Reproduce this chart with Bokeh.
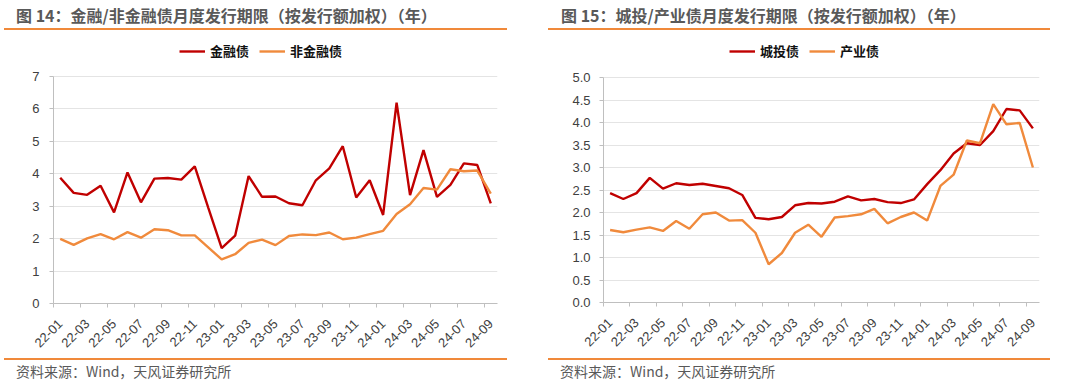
import math
from bokeh.plotting import figure
from bokeh.layouts import row, column
from bokeh.models import (Range1d, FixedTicker, Legend, LegendItem,
                          NumeralTickFormatter, Div)
from bokeh.embed import file_html
from bokeh.resources import INLINE

# ---------------- data ----------------
months = ["22-01", "22-02", "22-03", "22-04", "22-05", "22-06", "22-07", "22-08",
          "22-09", "22-10", "22-11", "22-12", "23-01", "23-02", "23-03", "23-04",
          "23-05", "23-06", "23-07", "23-08", "23-09", "23-10", "23-11", "23-12",
          "24-01", "24-02", "24-03", "24-04", "24-05", "24-06", "24-07", "24-08",
          "24-09"]

fin_bond = [3.88, 3.41, 3.35, 3.63, 2.81, 4.04, 3.12, 3.85, 3.87, 3.82, 4.23, 2.96,
            1.71, 2.09, 3.93, 3.29, 3.30, 3.09, 3.03, 3.80, 4.17, 4.85, 3.27, 3.80,
            2.73, 6.19, 3.34, 4.73, 3.29, 3.66, 4.32, 4.27, 3.09]
nonfin_bond = [1.99, 1.81, 2.01, 2.14, 1.98, 2.20, 2.03, 2.29, 2.26, 2.10, 2.10, 1.73,
               1.36, 1.52, 1.87, 1.97, 1.80, 2.08, 2.13, 2.11, 2.19, 1.98, 2.03, 2.14,
               2.24, 2.76, 3.06, 3.56, 3.51, 4.14, 4.08, 4.10, 3.39]

lgfv_bond = [2.43, 2.30, 2.43, 2.77, 2.53, 2.65, 2.61, 2.64, 2.59, 2.54, 2.39, 1.88,
             1.85, 1.90, 2.16, 2.21, 2.20, 2.24, 2.36, 2.27, 2.30, 2.23, 2.21, 2.29,
             2.63, 2.94, 3.31, 3.54, 3.50, 3.81, 4.30, 4.27, 3.87]
industry_bond = [1.61, 1.56, 1.62, 1.67, 1.59, 1.81, 1.64, 1.96, 2.00, 1.82, 1.83, 1.55,
                 0.85, 1.10, 1.55, 1.73, 1.46, 1.89, 1.92, 1.96, 2.08, 1.76, 1.90, 2.00,
                 1.82, 2.59, 2.84, 3.60, 3.54, 4.41, 3.96, 3.99, 3.00]

left_yticks = [0, 1, 2, 3, 4, 5, 6, 7]
right_yticks = [0.0, 0.5, 1.0, 1.5, 2.0, 2.5, 3.0, 3.5, 4.0, 4.5, 5.0]

title_left = "图 14：金融/非金融债月度发行期限（按发行额加权）（年）"
title_right = "图 15：城投/产业债月度发行期限（按发行额加权）（年）"
names_left = ["金融债", "非金融债"]
names_right = ["城投债", "产业债"]
source_text = "资料来源：Wind，天风证券研究所"

# ---------------- styles ----------------
RED = "#C00000"
ORANGE = "#F08A3C"
RULE = "#F0893A"
AXIS = "#BFBFBF"
GRID = "#E4E4E4"
CJK = "Noto Sans CJK SC"
LAT = "Liberation Sans"
PANEL_W = 540


def header_div(text, text_left, rule_left, rule_width):
    html = (
        f'<div style="position:relative;width:{PANEL_W}px;height:30px;overflow:hidden;">'
        f'<div style="position:absolute;left:{text_left}px;top:4px;line-height:22px;'
        f"font-family:'{CJK}';font-size:16px;font-weight:bold;color:#595959;"
        f'white-space:nowrap;">{text}</div>'
        f'<div style="position:absolute;left:{rule_left}px;top:28px;width:{rule_width}px;'
        f'height:2px;background:{RULE};"></div></div>'
    )
    return Div(text=html, width=PANEL_W, height=30, margin=0)


def footer_div(text, text_left, rule_left, rule_width):
    html = (
        f'<div style="position:relative;width:{PANEL_W}px;height:27px;overflow:hidden;">'
        f'<div style="position:absolute;left:{rule_left}px;top:0px;width:{rule_width}px;'
        f'height:2px;background:{RULE};"></div>'
        f'<div style="position:absolute;left:{text_left}px;top:3px;line-height:20px;'
        f"font-family:'{CJK}';font-size:14px;color:#595959;"
        f'white-space:nowrap;">{text}</div></div>'
    )
    return Div(text=html, width=PANEL_W, height=27, margin=0)


def main_fig(names, s1, s2, ymax, yticks, yfmt, bl, fw, bt, fh, bb, px_per_unit,
             leg_x, leg_y, label_standoff):
    x = list(range(len(months)))
    # the frame also holds the legend strip above the top gridline
    y_end = fh / px_per_unit
    p = figure(frame_width=fw, frame_height=fh, min_border_left=bl,
               min_border_right=PANEL_W - bl - fw, min_border_top=bt,
               min_border_bottom=bb,
               output_backend="svg", toolbar_location=None,
               x_range=Range1d(-0.5, len(months) - 0.5), y_range=Range1d(0, y_end))
    p.title.visible = False
    p.outline_line_color = None
    p.background_fill_color = "white"
    p.border_fill_color = "white"

    r1 = p.line(x, s1, line_color=RED, line_width=2.4)
    r2 = p.line(x, s2, line_color=ORANGE, line_width=2.4)

    xa = p.xaxis[0]
    major = list(range(0, len(months), 2))
    xa.ticker = FixedTicker(ticks=major, minor_ticks=[m - 0.5 for m in major])
    xa.major_label_overrides = {m: months[m] for m in major}
    xa.major_label_orientation = math.pi / 4
    xa.major_tick_line_color = None
    xa.major_tick_in = 0
    xa.major_tick_out = 0
    xa.minor_tick_line_color = AXIS
    xa.minor_tick_in = 0
    xa.minor_tick_out = 4
    xa.axis_line_color = AXIS
    xa.major_label_text_font = LAT
    xa.major_label_text_font_size = "13px"
    xa.major_label_text_color = "#404040"
    xa.major_label_standoff = 14

    ya = p.yaxis[0]
    ya.ticker = FixedTicker(ticks=yticks)
    ya.bounds = (0, ymax)
    if yfmt:
        ya.formatter = NumeralTickFormatter(format=yfmt)
    ya.axis_line_color = AXIS
    ya.major_tick_line_color = AXIS
    ya.major_tick_in = 0
    ya.major_tick_out = 4
    ya.minor_tick_line_color = None
    ya.major_label_text_font = LAT
    ya.major_label_text_font_size = "13px"
    ya.major_label_text_color = "#404040"
    ya.major_label_standoff = label_standoff

    p.xgrid.visible = False
    p.ygrid.grid_line_color = GRID
    p.ygrid.grid_line_width = 1

    legend = Legend(items=[LegendItem(label=names[0], renderers=[r1]),
                           LegendItem(label=names[1], renderers=[r2])],
                    location=(leg_x, leg_y), orientation="horizontal",
                    border_line_color=None, background_fill_alpha=0,
                    padding=0, margin=0, spacing=10, label_standoff=5,
                    glyph_width=26, glyph_height=16, label_height=16,
                    label_text_font=CJK, label_text_font_size="13px",
                    label_text_font_style="bold", label_text_color="#111111")
    p.add_layout(legend)
    return p


# left panel: frame spans page y 38..303, value 7 sits at y 76
h1 = header_div(title_left, 16, 4, 503)
m1 = main_fig(names_left, fin_bond, nonfin_bond, 7, left_yticks, None,
              bl=53, fw=444, bt=8, fh=265, bb=55, px_per_unit=227 / 7,
              leg_x=126, leg_y=243, label_standoff=10)
f1 = footer_div(source_text, 16, 4, 503)

# right panel: frame spans page y 38..302, value 5 sits at y 77
h2 = header_div(title_right, 21, 8, 502)
m2 = main_fig(names_right, lgfv_bond, industry_bond, 5, right_yticks, "0.0",
              bl=63, fw=436, bt=8, fh=264, bb=56, px_per_unit=225 / 5,
              leg_x=126, leg_y=242, label_standoff=9)
f2 = footer_div(source_text, 20, 8, 502)

layout = row(column(h1, m1, f1, spacing=0), column(h2, m2, f2, spacing=0), spacing=0)
open("out.html", "w").write(file_html(layout, INLINE))
